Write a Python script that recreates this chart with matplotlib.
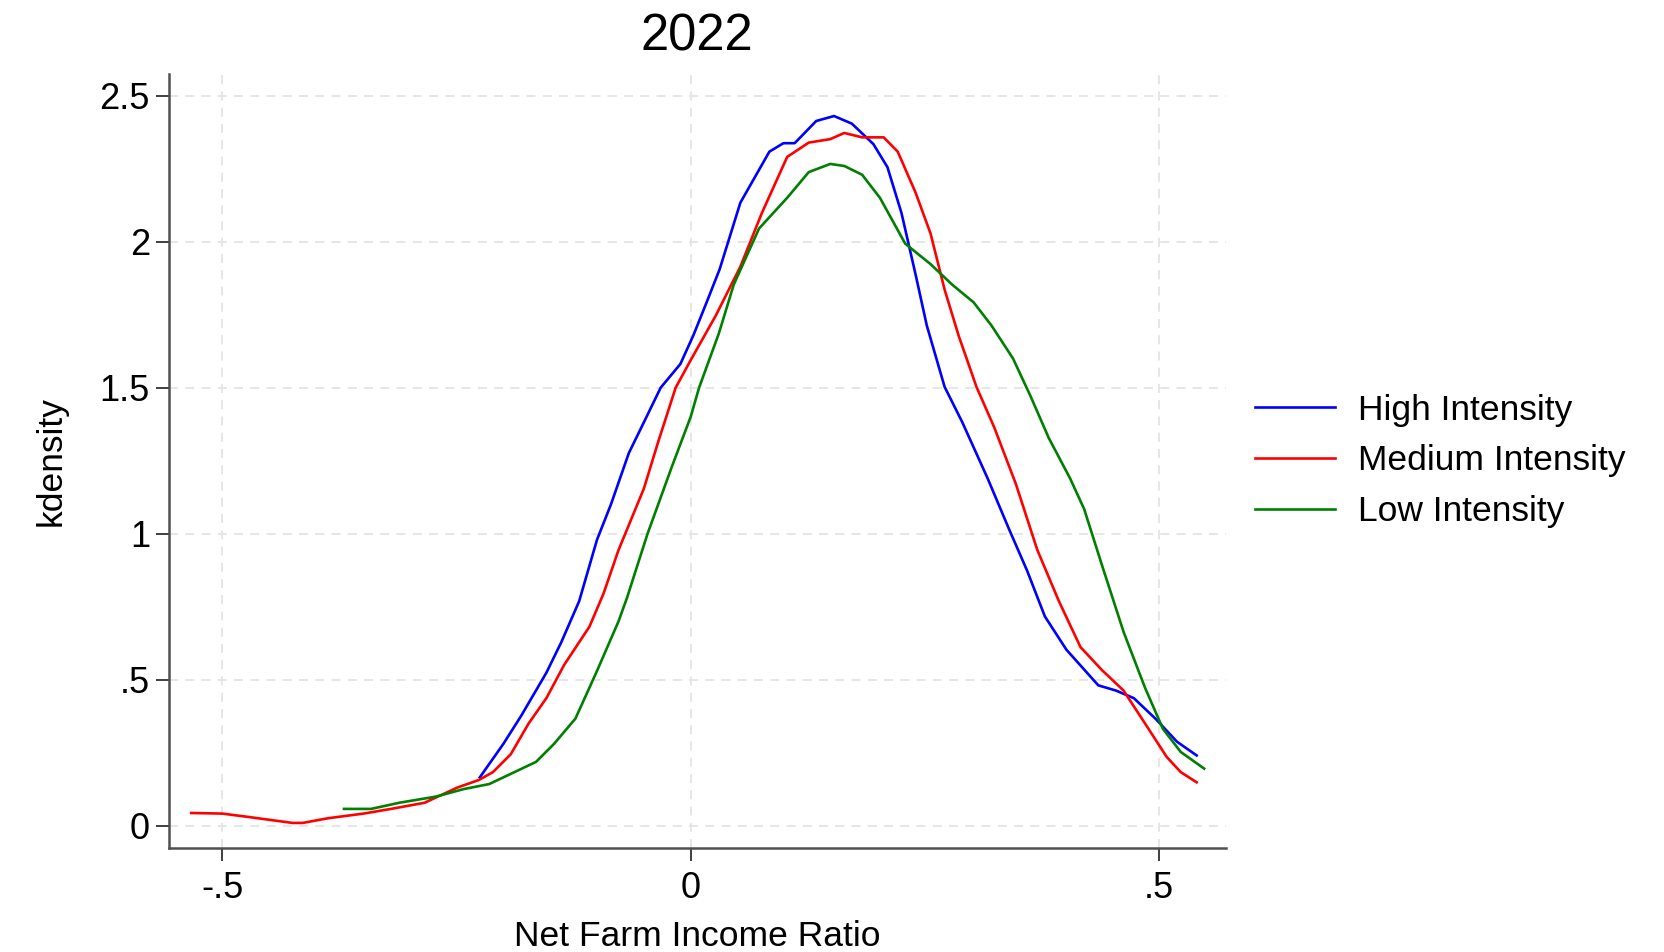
#!/usr/bin/env python3
"""
Kernel density of net farm income ratio by intensity group, 2022.
"""
import matplotlib
matplotlib.use('Agg')
import matplotlib.pyplot as plt

# values
high_x = [-0.225, -0.200, -0.181, -0.154, -0.138, -0.119, -0.100, -0.085, -0.066, -0.050,
          -0.032, -0.011, 0.003, 0.018, 0.031, 0.053, 0.084, 0.099, 0.111, 0.134,
          0.153, 0.172, 0.195, 0.210, 0.225, 0.240, 0.252, 0.271, 0.290, 0.317,
          0.340, 0.359, 0.378, 0.401, 0.435, 0.454, 0.473, 0.496, 0.519, 0.540]
high_y = [0.166, 0.280, 0.376, 0.524, 0.629, 0.769, 0.979, 1.101, 1.276, 1.381,
          1.500, 1.581, 1.680, 1.800, 1.906, 2.133, 2.308, 2.337, 2.337, 2.413,
          2.430, 2.404, 2.334, 2.255, 2.098, 1.888, 1.713, 1.503, 1.381, 1.189,
          1.014, 0.874, 0.717, 0.603, 0.481, 0.463, 0.437, 0.367, 0.288, 0.241]

med_x = [-0.533, -0.500, -0.471, -0.425, -0.414, -0.387, -0.349, -0.318, -0.284, -0.249,
         -0.226, -0.211, -0.192, -0.173, -0.154, -0.135, -0.108, -0.093, -0.077, -0.050,
         -0.035, -0.016, 0.000, 0.027, 0.053, 0.076, 0.103, 0.126, 0.149, 0.164,
         0.183, 0.206, 0.221, 0.240, 0.256, 0.271, 0.286, 0.305, 0.324, 0.347,
         0.370, 0.393, 0.416, 0.439, 0.462, 0.485, 0.508, 0.523, 0.540]
med_y = [0.044, 0.042, 0.030, 0.010, 0.010, 0.026, 0.042, 0.059, 0.079, 0.131,
         0.157, 0.184, 0.245, 0.350, 0.437, 0.551, 0.682, 0.795, 0.944, 1.154,
         1.311, 1.500, 1.594, 1.748, 1.914, 2.098, 2.290, 2.339, 2.351, 2.372,
         2.357, 2.357, 2.308, 2.168, 2.028, 1.836, 1.678, 1.503, 1.364, 1.171,
         0.944, 0.769, 0.612, 0.533, 0.463, 0.350, 0.236, 0.184, 0.149]

low_x = [-0.370, -0.341, -0.311, -0.272, -0.242, -0.215, -0.188, -0.165, -0.146, -0.123,
         -0.100, -0.077, -0.068, -0.046, -0.020, 0.000, 0.009, 0.030, 0.046, 0.073,
         0.103, 0.126, 0.149, 0.164, 0.183, 0.202, 0.229, 0.256, 0.279, 0.302,
         0.321, 0.344, 0.363, 0.382, 0.405, 0.420, 0.439, 0.462, 0.485, 0.504,
         0.523, 0.548]
low_y = [0.058, 0.058, 0.079, 0.100, 0.126, 0.143, 0.184, 0.219, 0.280, 0.367,
         0.530, 0.700, 0.780, 1.000, 1.230, 1.400, 1.500, 1.685, 1.853, 2.045,
         2.150, 2.238, 2.266, 2.259, 2.229, 2.150, 1.993, 1.923, 1.853, 1.792,
         1.713, 1.600, 1.469, 1.329, 1.189, 1.084, 0.892, 0.664, 0.472, 0.332,
         0.253, 0.196]

x_ticks = [-0.5, 0, 0.5]
x_tick_labels = ['-.5', '0', '.5']
y_ticks = [0, 0.5, 1, 1.5, 2, 2.5]
y_tick_labels = ['0', '.5', '1', '1.5', '2', '2.5']

plt.rcParams['font.family'] = ['Liberation Sans', 'DejaVu Sans']

fig = plt.figure(figsize=(16.64, 9.52), dpi=100)
ax = fig.add_axes([0.1014, 0.1092, 0.6352, 0.8128])

ax.plot(high_x, high_y, color='#0000ff', lw=1.9, label='High Intensity')
ax.plot(med_x, med_y, color='#ff0000', lw=1.9, label='Medium Intensity')
ax.plot(low_x, low_y, color='#008000', lw=1.9, label='Low Intensity')

ax.set_xlim(-0.557, 0.571)
ax.set_ylim(-0.076, 2.573)
ax.set_xticks(x_ticks)
ax.set_xticklabels(x_tick_labels)
ax.set_yticks(y_ticks)
ax.set_yticklabels(y_tick_labels)

ax.grid(True, ls=(0, (5, 4)), color='#e4e4e4', lw=1.3)
ax.set_axisbelow(True)
for side in ['top', 'right']:
    ax.spines[side].set_visible(False)
for side in ['left', 'bottom']:
    ax.spines[side].set_color('#505050')
    ax.spines[side].set_linewidth(1.8)
ax.tick_params(axis='both', direction='out', length=9.5, width=1.3,
               color='#303030', labelsize=26)
ax.tick_params(axis='y', pad=4)
ax.tick_params(axis='x', pad=7)

ax.set_title('2022', fontsize=36.5, pad=17)
ax.set_xlabel('Net Farm Income Ratio', fontsize=25.5, labelpad=10)
ax.set_ylabel('kdensity', fontsize=25.5, labelpad=23)

fig.legend(loc='center left', bbox_to_anchor=(0.754, 0.516), frameon=False,
           fontsize=25.5, borderpad=0, borderaxespad=0, handlelength=2.26,
           handletextpad=0.65, labelspacing=0.5)

fig.savefig('out.png', dpi=100)
